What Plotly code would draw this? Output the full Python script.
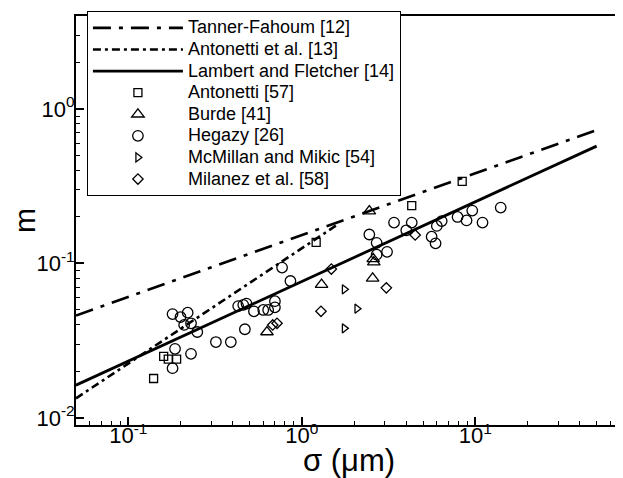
import math
import plotly.graph_objects as go

# ---------------- data ----------------
# model lines: sigma (um) and m
tanner_sigma = [0.05, 50.0]
tanner_m = [0.046, 0.73]

antonetti_corr_sigma = [0.05, 1.6]
antonetti_corr_m = [0.0134, 0.178]

lambert_sigma = [0.05, 50.0]
lambert_m = [0.0163, 0.575]

# experimental data
antonetti57_sigma = [0.14, 0.16, 0.17, 0.19, 1.21, 4.3, 8.4]
antonetti57_m = [0.018, 0.025, 0.024, 0.024, 0.137, 0.237, 0.34]

burde_sigma = [0.63, 1.30, 2.45, 2.60, 2.58, 2.56]
burde_m = [0.036, 0.073, 0.218, 0.102, 0.107, 0.080]

hegazy_sigma = [0.18, 0.20, 0.22, 0.21, 0.23, 0.25, 0.43, 0.46, 0.48, 0.53,
                0.60, 0.64, 0.70, 0.70, 0.47, 0.32, 0.39, 0.186, 0.23, 0.18,
                0.77, 0.86, 3.4, 4.3, 4.0, 2.45, 2.7, 3.1, 2.7, 6.4,
                6.0, 5.6, 5.9, 7.9, 8.9, 9.6, 11.0, 14.0]
hegazy_m = [0.047, 0.045, 0.048, 0.040, 0.041, 0.036, 0.053, 0.054, 0.055, 0.049,
            0.050, 0.050, 0.057, 0.052, 0.0375, 0.031, 0.031, 0.028, 0.026, 0.021,
            0.094, 0.077, 0.184, 0.184, 0.164, 0.154, 0.136, 0.119, 0.114, 0.188,
            0.175, 0.149, 0.135, 0.20, 0.19, 0.22, 0.184, 0.23]

mcmillan_sigma = [1.76, 2.08, 1.76]
mcmillan_m = [0.068, 0.051, 0.038]

milanez_sigma = [0.68, 0.72, 1.29, 1.48, 3.07, 4.5]
milanez_m = [0.040, 0.041, 0.049, 0.092, 0.0695, 0.153]

x_range = [0.05, 70.0]
y_range = [0.009, 4.0]

x_tick_vals = [0.1, 1, 10]
x_tick_text = ["10<sup>-1</sup>", "10<sup>0</sup>", "10<sup>1</sup>"]
y_tick_vals = [0.01, 0.1, 1]
y_tick_text = ["10<sup>-2</sup>", "10<sup>-1</sup>", "10<sup>0</sup>"]

FONT = "Liberation Sans, Arial, Helvetica, sans-serif"


def minor_positions(decades):
    return [k * 10.0 ** d for d in decades for k in range(2, 10)]


def legend_name(text):
    # larger glyphs than the legend's nominal font so rows stay compact
    return '<span style="font-size:18px">' + text + "</span>"


fig = go.Figure()

fig.add_trace(go.Scatter(x=tanner_sigma, y=tanner_m, mode="lines",
                         name=legend_name("Tanner-Fahoum [12]"),
                         line=dict(color="black", width=2.6, dash="18px,8px,4px,8px")))
fig.add_trace(go.Scatter(x=antonetti_corr_sigma, y=antonetti_corr_m, mode="lines",
                         name=legend_name("Antonetti et al. [13]"),
                         line=dict(color="black", width=2.6, dash="8px,4px,3px,4px")))
fig.add_trace(go.Scatter(x=lambert_sigma, y=lambert_m, mode="lines",
                         name=legend_name("Lambert and Fletcher [14]"),
                         line=dict(color="black", width=2.8)))

mk_line = dict(color="black", width=1.3)
fig.add_trace(go.Scatter(x=antonetti57_sigma, y=antonetti57_m, mode="markers",
                         name=legend_name("Antonetti [57]"),
                         marker=dict(symbol="square-open", size=8, color="black", line=mk_line)))
fig.add_trace(go.Scatter(x=burde_sigma, y=burde_m, mode="markers",
                         name=legend_name("Burde [41]"),
                         marker=dict(symbol="triangle-up-open", size=11, color="black", line=mk_line)))
fig.add_trace(go.Scatter(x=hegazy_sigma, y=hegazy_m, mode="markers",
                         name=legend_name("Hegazy [26]"),
                         marker=dict(symbol="circle-open", size=10.5, color="black", line=mk_line)))
fig.add_trace(go.Scatter(x=mcmillan_sigma, y=mcmillan_m, mode="markers",
                         name=legend_name("McMillan and Mikic [54]"),
                         marker=dict(symbol="triangle-right-open", size=8, color="black", line=mk_line)))
fig.add_trace(go.Scatter(x=milanez_sigma, y=milanez_m, mode="markers",
                         name=legend_name("Milanez et al. [58]"),
                         marker=dict(symbol="diamond-open", size=8, color="black", line=mk_line)))

axis_common = dict(
    type="log",
    showgrid=False,
    zeroline=False,
    showline=True,
    linecolor="black",
    linewidth=2,
    mirror=True,
    ticks="inside",
    ticklen=8,
    tickwidth=1.5,
    tickcolor="black",
    tickmode="array",
    tickfont=dict(family=FONT, size=22, color="black"),
    automargin=False,
)
minor_common = dict(ticks="inside", ticklen=4, tickwidth=1, tickcolor="black",
                    showgrid=False, tickmode="array")

# the page body has an 8 px margin, so the figure is 8 px smaller and margins compensate
fig.update_layout(
    width=615, height=470,
    margin=dict(l=68, r=1, t=8, b=53),
    paper_bgcolor="white",
    plot_bgcolor="white",
    font=dict(family=FONT, color="black"),
    xaxis=dict(axis_common,
               range=[math.log10(x_range[0]), math.log10(x_range[1])],
               tickvals=x_tick_vals, ticktext=x_tick_text,
               minor=dict(minor_common, tickvals=minor_positions([-2, -1, 0, 1])),
               ticklabelstandoff=-10,
               title=dict(text="σ (μm)", font=dict(family=FONT, size=31), standoff=0)),
    yaxis=dict(axis_common,
               range=[math.log10(y_range[0]), math.log10(y_range[1])],
               tickvals=y_tick_vals, ticktext=y_tick_text,
               minor=dict(minor_common, tickvals=minor_positions([-3, -2, -1, 0])),
               ticklabelstandoff=-5,
               title=dict(text="m", font=dict(family=FONT, size=30), standoff=6)),
    legend=dict(
        x=0.02, y=1.012, xanchor="left", yanchor="top",
        bgcolor="white", bordercolor="black", borderwidth=1,
        font=dict(family=FONT, size=14.3, color="black"),
        itemwidth=90,
        tracegroupgap=0,
    ),
    showlegend=True,
)

fig.write_html("out.html")
